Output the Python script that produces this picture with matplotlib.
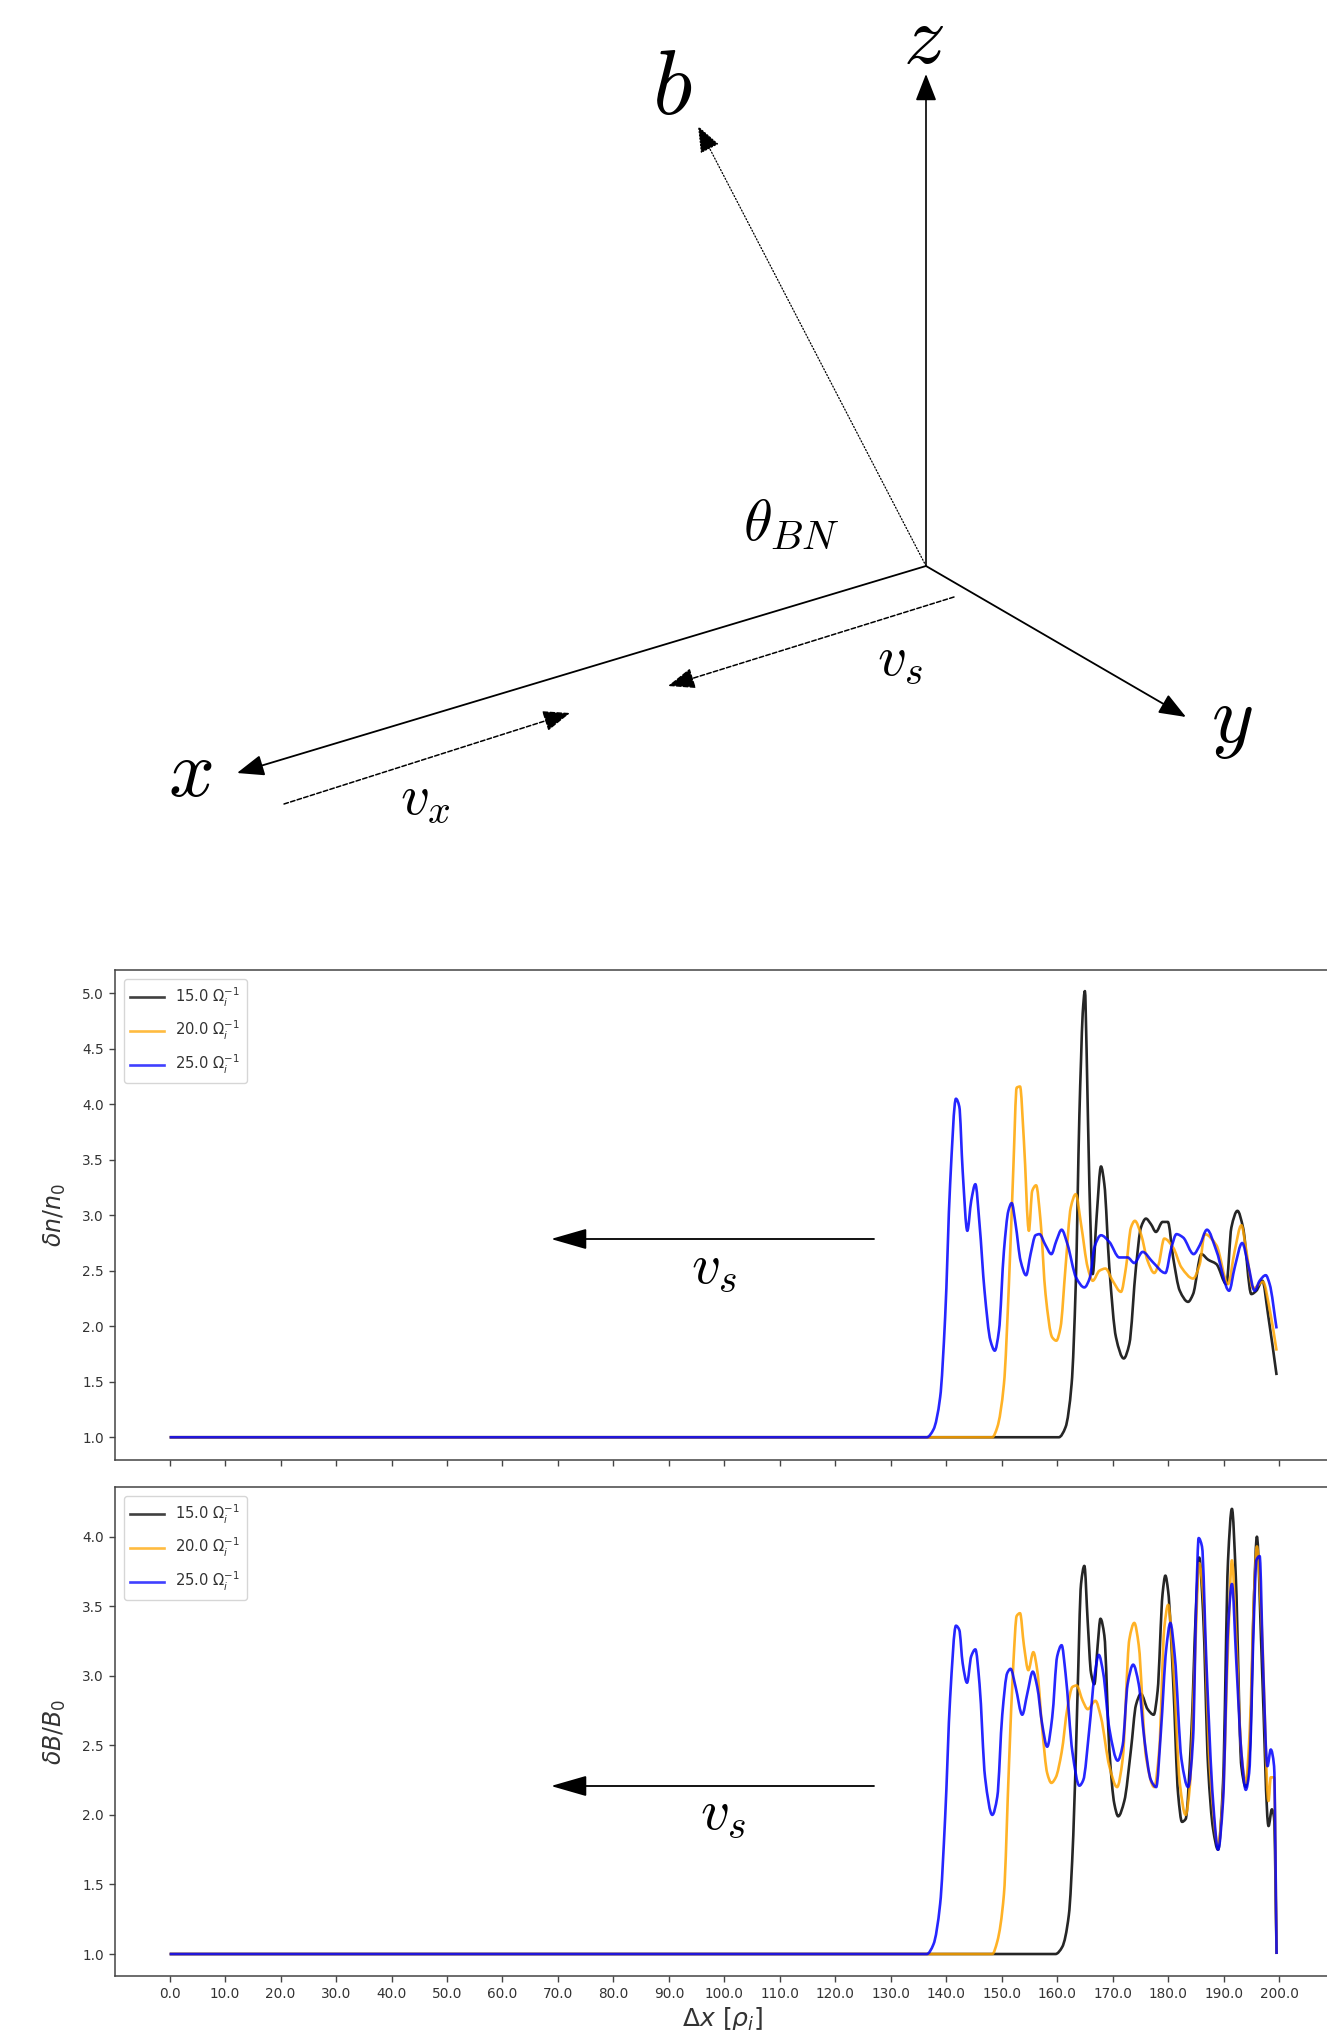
import matplotlib
matplotlib.use('Agg')
import matplotlib.pyplot as plt
import numpy as np
from matplotlib.lines import Line2D
from matplotlib.patches import PathPatch
from matplotlib.path import Path

# Position along x [rho_i] and value for each curve
n_black_x = [0, 160.3, 161.5, 162.6, 163.35, 164, 164.3, 164.6, 165, 165.3, 165.8, 166.4, 167.1, 167.9, 168.5, 169.4, 170.6, 172, 173, 174.2, 175.1, 176, 176.9, 177.8, 179, 179.95, 180.9, 182.1, 183.6, 184.5, 186, 187.2, 188.7, 190.5, 191.4, 192.5, 193.5, 195, 195.9, 197, 198, 199.55]
n_black_y = [1.0, 1.0, 1.09, 1.48, 2.38, 3.9, 4.4, 4.82, 5.02, 4.49, 3.28, 2.47, 2.98, 3.44, 3.28, 2.53, 1.90, 1.71, 1.84, 2.53, 2.89, 2.97, 2.92, 2.85, 2.94, 2.94, 2.62, 2.32, 2.22, 2.29, 2.65, 2.60, 2.56, 2.38, 2.89, 3.04, 2.89, 2.29, 2.32, 2.41, 2.11, 1.56]
n_orange_x = [0, 148.3, 149.2, 150.4, 151.3, 152.1, 152.7, 153.3, 154, 154.9, 155.5, 156.2, 157, 157.9, 159.1, 159.85, 160.6, 161.5, 162.45, 163.35, 164.3, 165.5, 166.4, 167.6, 168.7, 170, 171.5, 172.4, 173.3, 174, 175.1, 176.3, 177.5, 178.3, 179.3, 180.9, 182.4, 184.5, 185.7, 186.6, 188.7, 190.8, 192, 193.2, 194.1, 195.3, 197.1, 198.35, 199.55]
n_orange_y = [1.0, 1.0, 1.09, 1.48, 2.38, 3.43, 4.15, 4.16, 3.67, 2.86, 3.22, 3.27, 2.95, 2.29, 1.90, 1.87, 1.99, 2.53, 3.07, 3.19, 2.92, 2.53, 2.41, 2.50, 2.52, 2.41, 2.31, 2.53, 2.89, 2.95, 2.83, 2.59, 2.48, 2.56, 2.79, 2.71, 2.53, 2.43, 2.56, 2.83, 2.73, 2.38, 2.68, 2.91, 2.68, 2.34, 2.40, 2.14, 1.78]
n_blue_x = [0, 136.5, 137.7, 138.9, 139.8, 140.7, 141.75, 142.35, 142.96, 143.8, 144.5, 145.25, 146, 146.9, 147.97, 148.75, 149.5, 150.4, 151.2, 151.8, 152.5, 153.4, 154.4, 155.2, 156.1, 156.8, 157.9, 158.95, 159.85, 160.8, 161.85, 163.4, 164.9, 165.9, 166.7, 167.9, 169.4, 171.2, 172.7, 173.9, 175.4, 177.2, 179.5, 180.6, 181.5, 182.7, 184.6, 185.7, 187, 188.7, 191, 192, 193.35, 194.4, 195.6, 196.5, 197.6, 198.3, 199.55]
n_blue_y = [1.0, 1.0, 1.07, 1.36, 2.08, 3.28, 4.05, 3.98, 3.40, 2.86, 3.13, 3.28, 2.92, 2.32, 1.87, 1.78, 1.96, 2.68, 3.04, 3.11, 2.92, 2.59, 2.46, 2.65, 2.82, 2.83, 2.73, 2.65, 2.77, 2.87, 2.74, 2.44, 2.35, 2.44, 2.71, 2.82, 2.76, 2.62, 2.62, 2.57, 2.67, 2.58, 2.48, 2.71, 2.83, 2.80, 2.65, 2.73, 2.87, 2.68, 2.32, 2.53, 2.75, 2.56, 2.32, 2.41, 2.46, 2.38, 1.98]

b_black_x = [0, 159.7, 160.9, 162.1, 162.9, 163.65, 164.3, 164.9, 165.5, 166.1, 166.7, 167.3, 167.8, 168.5, 169.4, 170.3, 171, 172.1, 173.3, 174.2, 175.1, 176.3, 177.4, 178.1, 179, 179.5, 180, 180.9, 181.8, 182.5, 183.15, 184.2, 185, 185.6, 186.3, 187.2, 188.1, 189, 189.9, 190.8, 191.5, 192.2, 193.2, 194, 194.7, 195.5, 196, 196.9, 198.1, 198.7, 199.1, 199.55]
b_black_y = [1.0, 1.0, 1.05, 1.28, 1.85, 2.84, 3.66, 3.79, 3.39, 3.02, 2.94, 3.22, 3.41, 3.29, 2.47, 2.08, 1.99, 2.10, 2.47, 2.79, 2.87, 2.76, 2.72, 2.89, 3.59, 3.72, 3.61, 2.97, 2.15, 1.95, 1.97, 2.60, 3.46, 3.85, 3.46, 2.35, 1.90, 1.75, 2.23, 3.83, 4.20, 3.71, 2.35, 2.20, 2.45, 3.59, 4.00, 3.09, 1.92, 2.04, 1.98, 1.0]
b_orange_x = [0, 148.3, 149.2, 150.4, 151.3, 152.1, 152.7, 153.3, 154, 154.8, 155.7, 156.4, 157.3, 158.2, 158.95, 159.75, 160.8, 161.85, 162.75, 163.5, 164.6, 165.5, 166.9, 167.9, 169.4, 170.8, 171.8, 173, 173.9, 174.7, 176, 177.5, 178.4, 179.3, 180, 180.9, 182.1, 183.15, 183.9, 184.8, 185.6, 186.3, 187.5, 189, 189.9, 190.8, 191.5, 192.2, 193.2, 194, 194.7, 195.5, 196, 196.9, 198.1, 198.5, 199.1, 199.55]
b_orange_y = [1.0, 1.0, 1.09, 1.43, 2.35, 3.09, 3.43, 3.45, 3.22, 3.04, 3.17, 3.04, 2.62, 2.30, 2.23, 2.27, 2.45, 2.77, 2.92, 2.93, 2.82, 2.76, 2.82, 2.70, 2.35, 2.20, 2.40, 3.26, 3.38, 3.22, 2.42, 2.20, 2.47, 3.34, 3.51, 3.09, 2.23, 2.00, 2.20, 3.09, 3.81, 3.59, 2.35, 1.79, 2.15, 3.22, 3.83, 3.34, 2.45, 2.23, 2.60, 3.59, 3.93, 3.34, 2.10, 2.27, 2.27, 1.0]
b_blue_x = [0, 136.5, 137.7, 138.9, 139.8, 140.7, 141.75, 142.35, 142.96, 143.75, 144.5, 145.25, 146, 147, 148.3, 149.2, 150.1, 151, 151.6, 152.5, 153.7, 154.6, 155.6, 156.4, 157.3, 158.2, 159.1, 160, 160.8, 161.5, 162.75, 164, 164.7, 165.8, 166.7, 167.5, 168.3, 169.4, 170.9, 171.8, 172.7, 173.7, 174.7, 175.7, 176.9, 177.85, 178.7, 179.65, 180.4, 181.2, 182.4, 183.6, 184.5, 185.1, 185.5, 186.1, 186.9, 188.1, 189, 189.9, 190.8, 191.5, 192.3, 193.2, 194, 194.6, 195.5, 195.9, 196.5, 197.1, 197.9, 198.5, 199.1, 199.55]
b_blue_y = [1.0, 1.0, 1.07, 1.36, 1.98, 2.84, 3.36, 3.33, 3.09, 2.95, 3.14, 3.19, 2.94, 2.27, 2.00, 2.13, 2.72, 3.02, 3.05, 2.92, 2.72, 2.87, 3.03, 2.92, 2.65, 2.49, 2.70, 3.14, 3.22, 3.02, 2.45, 2.21, 2.25, 2.62, 2.99, 3.15, 3.02, 2.62, 2.39, 2.50, 2.94, 3.08, 2.94, 2.55, 2.25, 2.20, 2.60, 3.19, 3.38, 3.14, 2.40, 2.20, 2.55, 3.59, 3.99, 3.93, 3.09, 2.10, 1.75, 2.10, 3.34, 3.66, 3.09, 2.45, 2.18, 2.30, 3.46, 3.83, 3.86, 3.09, 2.35, 2.47, 2.35, 1.0]

time_labels = [r'15.0 $\Omega_i^{-1}$', r'20.0 $\Omega_i^{-1}$', r'25.0 $\Omega_i^{-1}$']
line_colors = ['black', 'orange', 'blue']
x_ticks = list(range(0, 201, 10))
x_tick_labels = [f'{t:.1f}' for t in x_ticks]
n_ticks = [1.0, 1.5, 2.0, 2.5, 3.0, 3.5, 4.0, 4.5, 5.0]
b_ticks = [1.0, 1.5, 2.0, 2.5, 3.0, 3.5, 4.0]

W, H = 1327, 2030
fig = plt.figure(figsize=(W / 100, H / 100), dpi=100)


def curve_path(xs, ys):
    # Bezier path through the read points, flat at every local peak and dip
    x = np.array(xs, dtype=float)
    y = np.array(ys, dtype=float)
    dx = np.diff(x)
    sec = np.diff(y) / dx
    slope = np.zeros_like(y)
    for i in range(1, len(x) - 1):
        if sec[i - 1] * sec[i] > 0:
            w1 = 2 * dx[i] + dx[i - 1]
            w2 = dx[i] + 2 * dx[i - 1]
            slope[i] = (w1 + w2) / (w1 / sec[i - 1] + w2 / sec[i])
    slope[-1] = sec[-1]
    verts = [(x[0], y[0])]
    codes = [Path.MOVETO]
    for i in range(len(dx)):
        verts += [(x[i] + dx[i] / 3, y[i] + slope[i] * dx[i] / 3),
                  (x[i + 1] - dx[i] / 3, y[i + 1] - slope[i + 1] * dx[i] / 3),
                  (x[i + 1], y[i + 1])]
        codes += [Path.CURVE4] * 3
    return Path(verts, codes)


def panel(top, bottom, ylim, yticks, ylabel, curves):
    # axes run slightly past the right edge of the page, as in the original
    left, right = 115, 1329
    ax = fig.add_axes([left / W, 1 - bottom / H, (right - left) / W, (bottom - top) / H])
    handles = []
    for (xs, ys), c, lab in zip(curves, line_colors, time_labels):
        ax.add_patch(PathPatch(curve_path(xs, ys), fill=False, edgecolor=c, alpha=0.85, lw=1.9,
                               joinstyle='round', capstyle='butt'))
        handles.append(Line2D([], [], color=c, alpha=0.75, lw=1.9, label=lab))
    ax.set_xlim(-9.85, 209)
    ax.set_ylim(*ylim)
    ax.set_xticks(x_ticks)
    ax.set_yticks(yticks)
    ax.set_yticklabels([f'{t:.1f}' for t in yticks])
    ax.set_ylabel(ylabel, fontsize=17, color='#333333', labelpad=10)
    ax.tick_params(labelsize=9.8, labelcolor='#333333', color='#444444', length=4.5, width=1)
    for s in ax.spines.values():
        s.set_color('#444444')
        s.set_linewidth(1.1)
    ax.legend(handles=handles, loc='upper left', fontsize=10.6, labelspacing=0.72, handlelength=2.25,
              borderaxespad=0.6, borderpad=0.45, handletextpad=0.8, labelcolor='#333333')
    return ax


ax1 = panel(970, 1460, (0.795, 5.21), n_ticks, r'$\delta n/n_0$',
            [(n_black_x, n_black_y), (n_orange_x, n_orange_y), (n_blue_x, n_blue_y)])
ax1.set_xticklabels([])

ax2 = panel(1487, 1976, (0.842, 4.357), b_ticks, r'$\delta B/B_0$',
            [(b_black_x, b_black_y), (b_orange_x, b_orange_y), (b_blue_x, b_blue_y)])
ax2.set_xticklabels(x_tick_labels)
ax2.set_xlabel(r'$\Delta x\ [\rho_i]$', fontsize=18, color='#333333', labelpad=3)

# Overlay in page pixels for the sketch and the v_s annotations
ov = fig.add_axes([0, 0, 1, 1], facecolor='none')
ov.set_xlim(0, W)
ov.set_ylim(H, 0)
ov.axis('off')


def arrow(start, end, ls='-', lw=1.2, scale=26, hl=0.64, hw=0.25):
    ov.annotate('', xy=end, xytext=start,
                arrowprops=dict(arrowstyle=f'-|>,head_length={hl},head_width={hw}', color='black',
                                lw=lw, ls=ls, mutation_scale=scale, shrinkA=0, shrinkB=0))


def label(x, y, s, size):
    ov.text(x, y, s, fontsize=size, math_fontfamily='cm', ha='center', va='center', color='black')


origin = (926, 566)
arrow(origin, (926, 74))
arrow(origin, (698, 126), ls=(0, (1, 1.6)), lw=0.9)
arrow(origin, (237, 773), lw=1.3)
arrow(origin, (1186, 717), lw=1.3)
arrow((954, 597), (668, 686), ls=(0, (3, 1.5)), lw=1.1)
arrow((284, 804), (570, 713), ls=(0, (3, 1.5)), lw=1.1)

label(923, 39, r'$z$', 60)
label(672, 88, r'$b$', 66)
label(190, 774, r'$x$', 58)
label(1232, 722, r'$y$', 58)
label(791, 524, r'$\theta_{BN}$', 42)
label(900, 659, r'$v_s$', 41)
label(425, 798, r'$v_x$', 41)

# v_s arrows on the two panels
arrow((874, 1239), (551, 1239), lw=1.3, scale=28, hl=0.8, hw=0.23)
arrow((874, 1786), (551, 1786), lw=1.3, scale=28, hl=0.8, hw=0.23)
label(714, 1267, r'$v_s$', 41)
label(723, 1813, r'$v_s$', 41)

plt.savefig('out.png', dpi=100)
plt.close()
